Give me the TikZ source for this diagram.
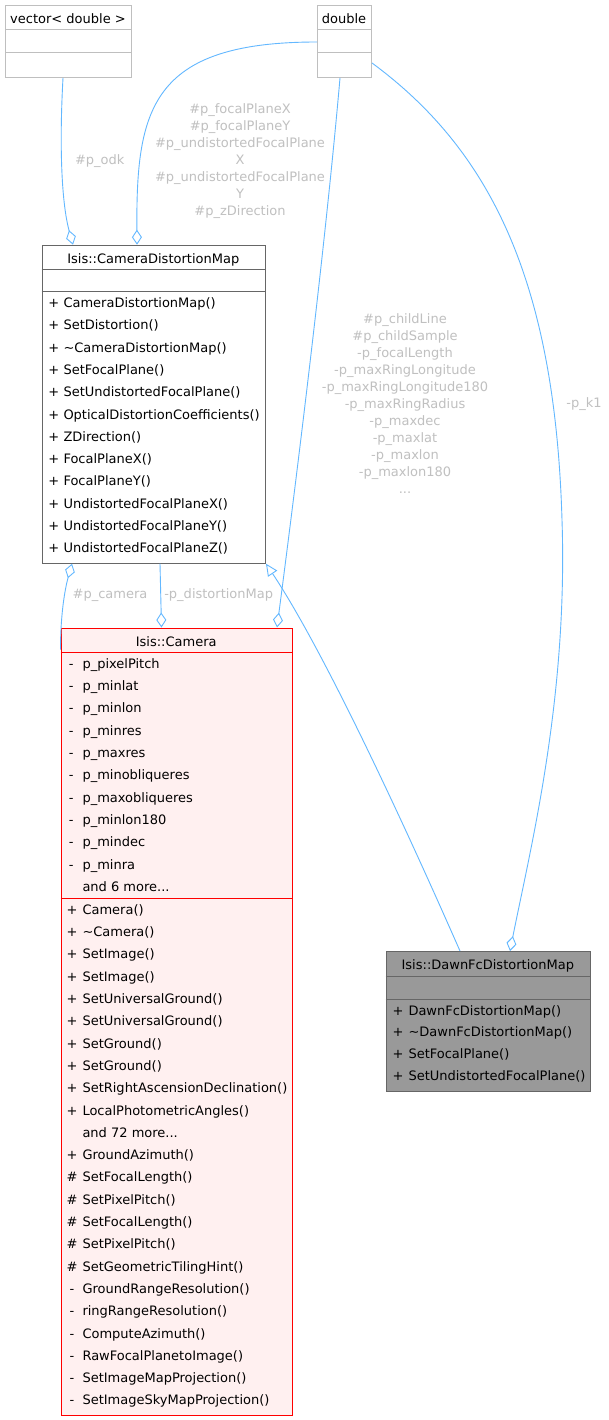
\documentclass[tikz,border=0pt]{standalone}
\usepackage{fontspec}
\setmainfont{DejaVu Sans}
\usetikzlibrary{arrows.meta}
\definecolor{edgec}{HTML}{63B8FF}
\definecolor{lbl}{HTML}{C0C0C0}
\definecolor{ghost}{HTML}{BFBFBF}
\definecolor{dark}{HTML}{666666}
\definecolor{campink}{HTML}{FFF0F0}
\definecolor{dawnfill}{HTML}{999999}
\newcommand\tridots{...}
\begin{document}
\begin{tikzpicture}[x=1pt,y=-1pt,
  txt/.style={font=\fontsize{13}{17}\selectfont, inner sep=0pt, anchor=base west},
  sym/.style={font=\fontsize{13}{17}\selectfont, inner sep=0pt, anchor=base},
  ttl/.style={font=\fontsize{13}{17}\selectfont, inner sep=0pt, anchor=base},
  lab/.style={font=\fontsize{13}{17}\selectfont, text=lbl, inner sep=0pt, align=center},
  box/.style={draw, line width=1pt, inner sep=0pt, anchor=north west},
  conn/.style={draw=edgec, line width=0.9pt},
  agg/.style={conn, -{Diamond[open, length=15pt, width=10pt]}},
  inh/.style={conn, -{Triangle[open, length=12pt, width=11pt]}}]
\useasboundingbox (0,0) rectangle (608,1420);
\fill[white] (0,0) rectangle (608,1420);

% ---- vector< double > ----
\node[box, draw=ghost, minimum width=126pt, minimum height=72pt] (vec) at (5,5) {};
\draw[ghost, line width=1pt] (5,30) -- (131,30) (5,52.3) -- (131,52.3);
\node[ttl] (vec-t) at (68,23.5) {vector< double >};

% ---- double ----
\node[box, draw=ghost, minimum width=54pt, minimum height=72pt] (dbl) at (317,5) {};
\draw[ghost, line width=1pt] (317,30) -- (371,30) (317,52.3) -- (371,52.3);
\node[ttl] (dbl-t) at (344,23.5) {double};

% ---- Isis::CameraDistortionMap ----
\node[box, draw=dark, fill=white, minimum width=223.5pt, minimum height=318pt] (cdm) at (41.5,244.7) {};
\draw[dark, line width=1pt] (41.5,269.3) -- (265,269.3) (41.5,291.8) -- (265,291.8);
\node[ttl] (cdm-t) at (153.3,263.3) {Isis::CameraDistortionMap};
\foreach \t [count=\i] in {CameraDistortionMap(), SetDistortion(), \textasciitilde CameraDistortionMap(),
  SetFocalPlane(), SetUndistortedFocalPlane(), OpticalDistortionCoefficients(), ZDirection(),
  FocalPlaneX(), FocalPlaneY(), UndistortedFocalPlaneX(), UndistortedFocalPlaneY(), UndistortedFocalPlaneZ()}{
  \node[sym] (cdm-s\i) at (53.7,{307.5+22.3*(\i-1)}) {+};
  \node[txt] (cdm-m\i) at (63.3,{307.5+22.3*(\i-1)}) {\t};
}

% ---- Isis::Camera ----
\node[box, draw=red, fill=campink, minimum width=231.5pt, minimum height=787.5pt] (cam) at (60.5,627.5) {};
\draw[red, line width=1pt] (60.5,652.4) -- (292,652.4) (60.5,898.3) -- (292,898.3);
\node[ttl] (cam-t) at (176.2,646.3) {Isis::Camera};
\foreach \t [count=\i] in {p\_pixelPitch, p\_minlat, p\_minlon, p\_minres, p\_maxres, p\_minobliqueres,
  p\_maxobliqueres, p\_minlon180, p\_mindec, p\_minra}{
  \node[sym] (cam-as\i) at (71.3,{668.3+22.3*(\i-1)}) {-};
  \node[txt] (cam-a\i) at (82.3,{668.3+22.3*(\i-1)}) {\t};
}
\node[txt] (cam-amore) at (82.3,{668.3+22.3*10}) {and 6 more\tridots};
\foreach \s/\t [count=\i] in {+/Camera(), +/\textasciitilde Camera(), +/SetImage(), +/SetImage(),
  +/SetUniversalGround(), +/SetUniversalGround(), +/SetGround(), +/SetGround(),
  +/SetRightAscensionDeclination(), +/LocalPhotometricAngles(), {}/and 72 more\tridots, +/GroundAzimuth(),
  \#/SetFocalLength(), \#/SetPixelPitch(), \#/SetFocalLength(), \#/SetPixelPitch(),
  \#/SetGeometricTilingHint(), -/GroundRangeResolution(), -/ringRangeResolution(),
  -/ComputeAzimuth(), -/RawFocalPlanetoImage(), -/SetImageMapProjection(), -/SetImageSkyMapProjection()}{
  \node[sym] (cam-ms\i) at (72,{914.3+22.3*(\i-1)}) {\s};
  \node[txt] (cam-m\i) at (82.3,{914.3+22.3*(\i-1)}) {\t};
}

% ---- Isis::DawnFcDistortionMap ----
\node[box, draw=dark, fill=dawnfill, minimum width=204.3pt, minimum height=139.7pt] (dawn) at (385.7,951) {};
\draw[dark, line width=1pt] (385.7,976.7) -- (590,976.7) (385.7,999) -- (590,999);
\node[ttl] (dawn-t) at (487.8,969.8) {Isis::DawnFcDistortionMap};
\foreach \t [count=\i] in {DawnFcDistortionMap(), \textasciitilde DawnFcDistortionMap(), SetFocalPlane(), SetUndistortedFocalPlane()}{
  \node[sym] (dawn-s\i) at (398,{1015+21.9*(\i-1)}) {+};
  \node[txt] (dawn-m\i) at (408.3,{1015+21.9*(\i-1)}) {\t};
}

% ---- connectors ----
\draw[agg] ([xshift=58pt]vec.south west) .. controls (59,150) and (62,205) .. ([xshift=31.5pt]cdm.north west);
\draw[agg] ([yshift=-37pt]dbl.north west) .. controls (150,42) and (136,110) .. ([xshift=95.5pt]cdm.north west);
\draw[agg] ([xshift=23pt]dbl.south west) .. controls (325,250) and (295,490) .. ([xshift=216.5pt]cam.north west);
\draw[agg] ([yshift=-58pt]dbl.north east) .. controls (490,150) and (555,280) .. (562,520)
   .. controls (568,700) and (530,850) .. ([xshift=124.3pt]dawn.north west);
\draw[agg] ([yshift=-22pt]cam.north west) .. controls (60.5,610) and (66,585) .. ([xshift=30.5pt]cdm.south west);
\draw[agg] ([xshift=118.5pt]cdm.south west) -- ([xshift=101pt]cam.north west);
\draw[inh] ([xshift=74.3pt]dawn.north west) .. controls (420,860) and (330,660) .. (cdm.south east);

% ---- labels ----
\node[lab] (l-odk) at (99.7,161) {\#p\_odk};
\node[lab] (l-cdm) at (240,161) {\#p\_focalPlaneX\\\#p\_focalPlaneY\\\#p\_undistortedFocalPlane\\X\\\#p\_undistortedFocalPlane\\Y\\\#p\_zDirection};
\node[lab] (l-cam) at (405,404) {\#p\_childLine\\\#p\_childSample\\-p\_focalLength\\-p\_maxRingLongitude\\-p\_maxRingLongitude180\\-p\_maxRingRadius\\-p\_maxdec\\-p\_maxlat\\-p\_maxlon\\-p\_maxlon180\\\tridots};
\node[lab] (l-k1) at (584,404) {-p\_k1};
\node[lab] (l-camera) at (110,595) {\#p\_camera};
\node[lab] (l-dist) at (218.7,595) {-p\_distortionMap};
\end{tikzpicture}
\end{document}
